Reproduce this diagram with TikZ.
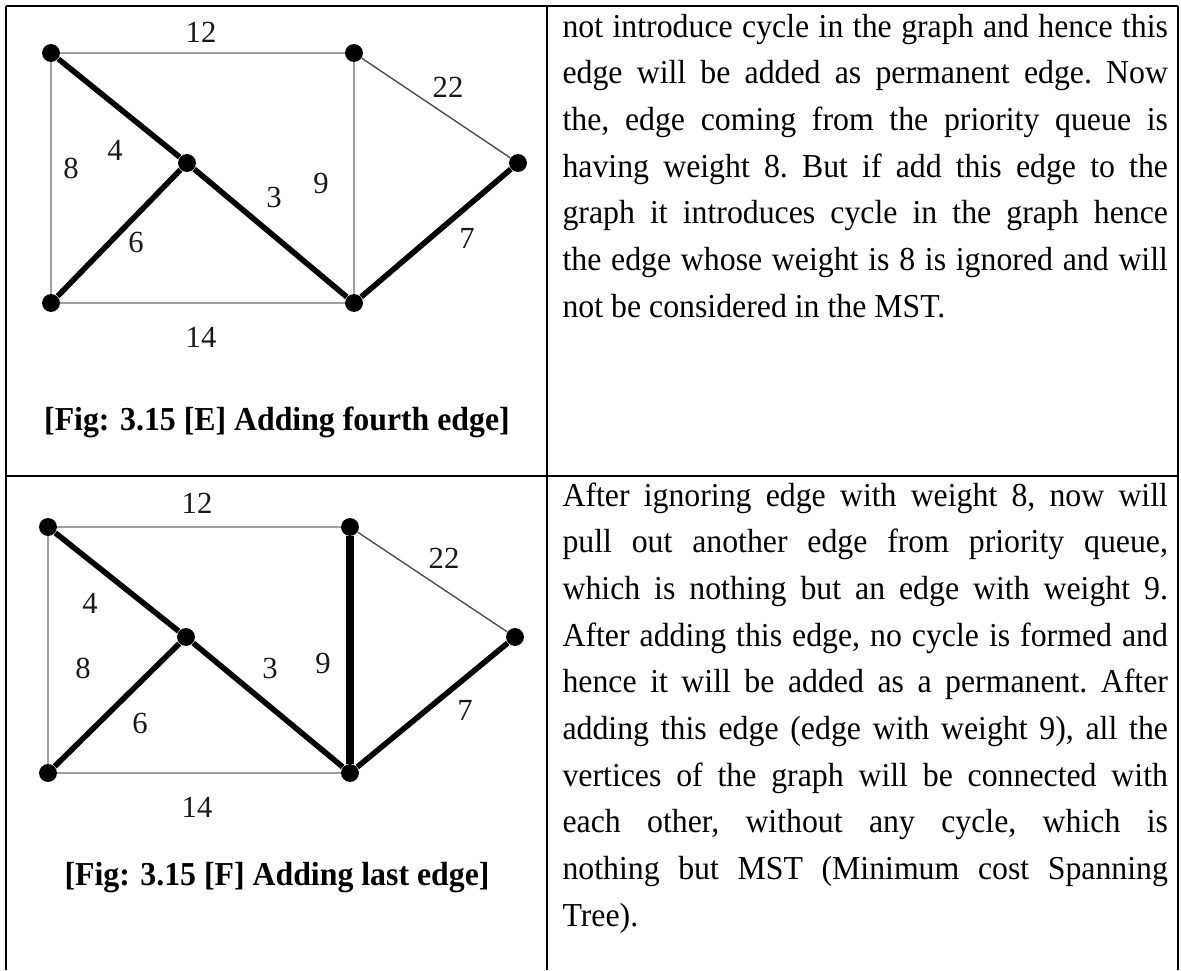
\documentclass[tikz,border=0pt]{standalone}
\usepackage{fontspec}
\setmainfont{Liberation Serif}
\usetikzlibrary{positioning}
\newcommand{\celltext}[1]{\scalebox{0.95}[1]{\parbox[t]{228.4pt}{\fontsize{12}{16.74}\selectfont
  \frenchspacing\hyphenpenalty=10000 #1}}}
\newcommand{\figcaption}[1]{\scalebox{0.95}[1]{#1}}

\begin{document}
\begin{tikzpicture}[
  x=0.3584pt, y=-0.3584pt,
  vertex/.style={circle, fill=black, inner sep=0pt, minimum size=6.4pt},
  rule/.style={draw=black, line width=0.8pt},
  plain/.style={draw=gray!75, line width=0.75pt},
  far/.style={draw=black!70, line width=0.5pt},
  tree/.style={draw=black, line width=2pt},
  newtree/.style={draw=black, line width=2.8pt},
  weight/.style={font=\fontsize{11}{13}\selectfont, text=black!90, inner sep=0pt},
  caption/.style={font=\fontsize{12}{14}\selectfont\bfseries, inner sep=0pt},
  para/.style={inner sep=0pt, anchor=base west}
]
\useasboundingbox (0,0) rectangle (1181,970);
% table
\draw[rule] (6,6) -- (1178,6);
\draw[rule] (6,476) -- (1178,476);
\draw[rule] (6,6) -- (6,970);
\draw[rule] (547,6) -- (547,970);
\draw[rule] (1178,6) -- (1178,970);
% Fig E
\node[vertex] (etl) at (51,53) {};
\node[vertex] (etr) at (354,53) {};
\node[vertex] (emid) at (187,163) {};
\node[vertex] (ert) at (518,163) {};
\node[vertex] (ebl) at (51,303) {};
\node[vertex] (ebr) at (354,303) {};
\draw[plain] (etl) -- (etr);
\draw[plain] (etl) -- (ebl);
\draw[plain] (etr) -- (ebr);
\draw[plain] (ebl) -- (ebr);
\draw[far] (etr) -- (ert);
\draw[tree] (etl) -- (emid);
\draw[tree] (ebl) -- (emid);
\draw[tree] (emid) -- (ebr);
\draw[tree] (ert) -- (ebr);
\node[weight] (ew12) at (201,32) {12};
\node[weight] (ew22) at (448,87) {22};
\node[weight] (ew4) at (115,150) {4};
\node[weight] (ew8) at (71,168) {8};
\node[weight] (ew9) at (321,183) {9};
\node[weight] (ew3) at (274,197) {3};
\node[weight] (ew6) at (136,242) {6};
\node[weight] (ew7) at (467,238) {7};
\node[weight] (ew14) at (201,337) {14};
\node[caption] (ecap) at (277,422) {\figcaption{[Fig: 3.15 [E] Adding fourth edge]}};
\node[para] (etext) at (562,37) {\celltext{not introduce cycle in the graph and hence this\linebreak
  edge will be added as permanent edge. Now\linebreak
  the, edge coming from the priority queue is\linebreak
  having weight 8. But if add this edge to the\linebreak
  graph it introduces cycle in the graph hence\linebreak
  the edge whose weight is 8 is ignored and will\linebreak
  not be considered in the MST.}};
% Fig F
\node[vertex] (ftl) at (48,527) {};
\node[vertex] (ftr) at (350,527) {};
\node[vertex] (fmid) at (186,637) {};
\node[vertex] (frt) at (515,637) {};
\node[vertex] (fbl) at (48,773) {};
\node[vertex] (fbr) at (350,773) {};
\draw[plain] (ftl) -- (ftr);
\draw[plain] (ftl) -- (fbl);
\draw[plain] (fbl) -- (fbr);
\draw[far] (ftr) -- (frt);
\draw[tree] (ftl) -- (fmid);
\draw[tree] (fbl) -- (fmid);
\draw[tree] (fmid) -- (fbr);
\draw[tree] (frt) -- (fbr);
\draw[newtree] (ftr) -- (fbr);
\node[weight] (fw12) at (197,503) {12};
\node[weight] (fw22) at (444,558) {22};
\node[weight] (fw4) at (90,603) {4};
\node[weight] (fw8) at (83,668) {8};
\node[weight] (fw9) at (323,663) {9};
\node[weight] (fw3) at (270,668) {3};
\node[weight] (fw6) at (140,723) {6};
\node[weight] (fw7) at (465,710) {7};
\node[weight] (fw14) at (197,807) {14};
\node[caption] (fcap) at (277,878) {\figcaption{[Fig: 3.15 [F] Adding last edge]}};
\node[para] (ftext) at (562,506) {\celltext{After ignoring edge with weight 8, now will\linebreak
  pull out another edge from priority queue,\linebreak
  which is nothing but an edge with weight 9.\linebreak
  After adding this edge, no cycle is formed and\linebreak
  hence it will be added as a permanent. After\linebreak
  adding this edge (edge with weight 9), all the\linebreak
  vertices of the graph will be connected with\linebreak
  each other, without any cycle, which is\linebreak
  nothing but MST (Minimum cost Spanning\linebreak
  Tree).}};
\end{tikzpicture}
\end{document}
